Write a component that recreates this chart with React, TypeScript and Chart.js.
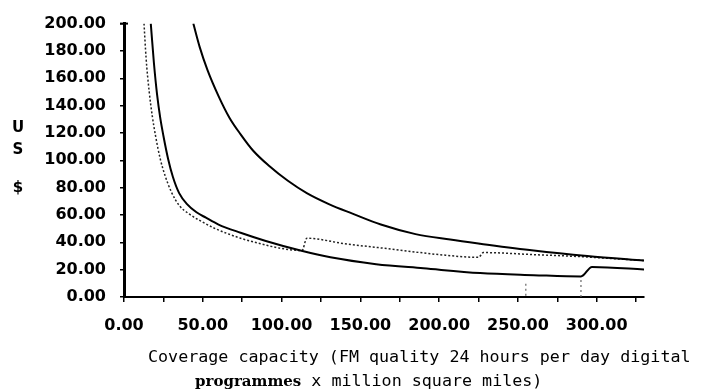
import React, { useEffect, useRef } from "react";
import { Chart, registerables } from "chart.js";

Chart.register(...registerables);

// Axis ticks
const xTickValues = [0, 25, 50, 75, 100, 125, 150, 175, 200, 225, 250, 275, 300, 325];
const yTickValues = [0, 20, 40, 60, 80, 100, 120, 140, 160, 180, 200];

// Upper solid curve
const upperX = [44, 48, 53, 60, 67, 74, 82, 92, 104, 116, 130, 145, 163, 185, 207, 226, 260, 294, 332];
const upperY = [200, 183, 166, 147, 131, 119, 107, 96, 85, 76, 68, 61, 53, 46, 42, 39, 34, 30, 26.5];

// Lower solid curve
const lowerX = [17, 19, 21, 23, 25, 28, 31, 35, 40, 46, 52, 60, 74, 90, 112, 131, 160, 190, 226, 260, 290, 297, 332];
const lowerY = [200, 171, 148, 131, 118, 101, 88, 76, 68, 62, 58, 53, 47, 41, 34, 29, 24, 21, 17.5, 16, 15, 22, 20];

// Dotted curve
const dottedX = [12.7, 14, 16, 18, 20, 23, 26, 30, 35, 41, 48, 58, 74, 90, 100, 113, 116, 140, 170, 200, 225, 228, 260, 290, 332];
const dottedY = [200, 175, 150, 132, 118, 101, 89, 77, 67, 61, 56, 50, 43, 38, 35.5, 34, 43, 39, 35, 31, 29, 32.5, 31, 29.5, 26.5];

// Faint vertical drop lines
const dropAX = [255, 255];
const dropAY = [1, 11];
const dropBX = [290, 290];
const dropBY = [0, 13];

const yTitleChars = ["U", "S", "$"];
const xTitleLine1 = "Coverage capacity (FM quality 24 hours per day digital";
const xTitleLine2Bold = "programmes";
const xTitleLine2Rest = " x million square miles)";

const pts = (xs: number[], ys: number[]) => xs.map((x, i) => ({ x, y: ys[i] }));

const titlePlugin = {
  id: "titles",
  afterDraw(chart: any) {
    const ctx = chart.ctx as CanvasRenderingContext2D;
    const area = chart.chartArea;
    ctx.save();
    ctx.fillStyle = "#000";
    ctx.strokeStyle = "#000";
    // T cap on y axis
    ctx.lineWidth = 2;
    ctx.beginPath();
    ctx.moveTo(area.left - 4, area.top);
    ctx.lineTo(area.left + 4, area.top);
    ctx.stroke();
    // y title
    ctx.font = "bold 15px 'DejaVu Sans'";
    ctx.textAlign = "center";
    ctx.textBaseline = "middle";
    const yPos = [128, 150, 188];
    yTitleChars.forEach((c, i) => ctx.fillText(c, 18, yPos[i]));
    // x title
    ctx.textAlign = "left";
    ctx.font = "16.7px 'DejaVu Sans Mono'";
    ctx.fillText(xTitleLine1, 148, 358);
    ctx.font = "bold 15px 'DejaVu Serif'";
    ctx.fillText(xTitleLine2Bold, 195, 382);
    const w = ctx.measureText(xTitleLine2Bold).width;
    ctx.font = "16.7px 'DejaVu Sans Mono'";
    ctx.fillText(xTitleLine2Rest, 195 + w, 382);
    ctx.restore();
  },
};

export default function App() {
  const ref = useRef<HTMLCanvasElement | null>(null);
  useEffect(() => {
    if (!ref.current) return;
    const tickFont = { family: "'DejaVu Sans'", size: 16, weight: "bold" as const };
    const chart = new Chart(ref.current, {
      type: "scatter",
      data: {
        datasets: [
          {
            data: pts(upperX, upperY),
            showLine: true,
            borderColor: "#000",
            borderWidth: 2,
            pointRadius: 0,
            cubicInterpolationMode: "monotone",
          },
          {
            data: pts(lowerX, lowerY),
            showLine: true,
            borderColor: "#000",
            borderWidth: 2,
            pointRadius: 0,
            cubicInterpolationMode: "monotone",
          },
          {
            data: pts(dottedX, dottedY),
            showLine: true,
            borderColor: "#222",
            borderWidth: 1.5,
            borderDash: [2, 2],
            pointRadius: 0,
            cubicInterpolationMode: "monotone",
          },
          {
            data: pts(dropAX, dropAY),
            showLine: true,
            borderColor: "#666",
            borderWidth: 1.2,
            borderDash: [2, 3],
            pointRadius: 0,
          },
          {
            data: pts(dropBX, dropBY),
            showLine: true,
            borderColor: "#666",
            borderWidth: 1.2,
            borderDash: [2, 3],
            pointRadius: 0,
          },
        ],
      },
      options: {
        responsive: false,
        animation: false,
        layout: { padding: { top: 19, right: 61, left: 0, bottom: 0 } },
        plugins: { legend: { display: false }, tooltip: { enabled: false } },
        scales: {
          x: {
            type: "linear",
            min: 0,
            max: 330,
            afterBuildTicks: (s: any) => {
              s.ticks = xTickValues.map((v) => ({ value: v }));
            },
            afterFit: (s: any) => {
              s.height = 95;
            },
            grid: { drawOnChartArea: false, drawTicks: true, tickLength: 5, color: "#000", lineWidth: 1.5 },
            border: { display: true, color: "#000", width: 2 },
            ticks: {
              callback: (v: any) => (Number(v) % 50 === 0 ? Number(v).toFixed(2) : ""),
              font: tickFont,
              color: "#000",
              padding: 14,
              maxRotation: 0,
              autoSkip: false,
            },
          },
          y: {
            type: "linear",
            min: 0,
            max: 200,
            afterBuildTicks: (s: any) => {
              s.ticks = yTickValues.map((v) => ({ value: v }));
            },
            afterFit: (s: any) => {
              s.width = 124;
            },
            grid: { drawOnChartArea: false, drawTicks: true, tickLength: 4, color: "#000", lineWidth: 1.5 },
            border: { display: true, color: "#000", width: 3 },
            ticks: {
              callback: (v: any) => Number(v).toFixed(2),
              font: tickFont,
              color: "#000",
              padding: 14,
              autoSkip: false,
            },
          },
        },
      },
      plugins: [titlePlugin],
    });
    return () => chart.destroy();
  }, []);
  return (
    <div style={{ position: "absolute", left: 0, top: 0, width: 705, height: 392, background: "#fff" }}>
      <canvas ref={ref} width={705} height={392} />
    </div>
  );
}
